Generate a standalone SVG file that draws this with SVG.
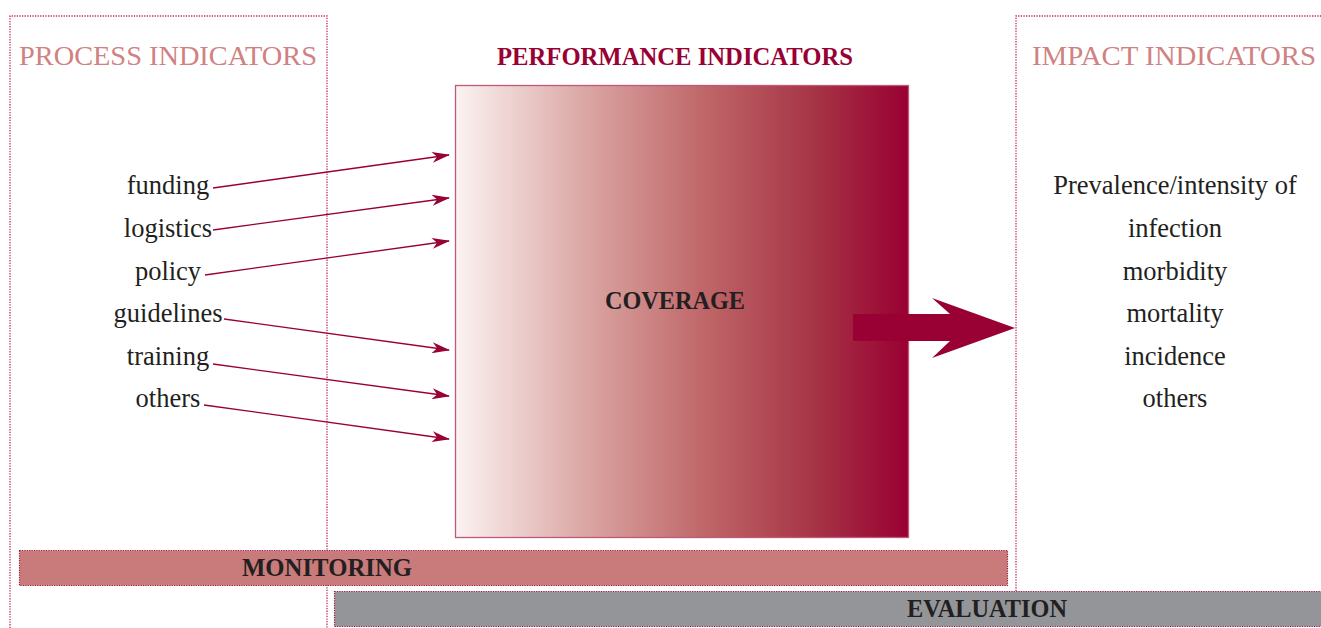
<svg xmlns="http://www.w3.org/2000/svg" width="1321" height="628" viewBox="0 0 1321 628">
<defs>
<linearGradient id="perfGrad" x1="0" y1="0" x2="1" y2="0">
<stop offset="0" stop-color="#fbf3f2"/>
<stop offset="0.28" stop-color="#dba8a5"/>
<stop offset="0.55" stop-color="#bf6668"/>
<stop offset="0.8" stop-color="#a53244"/>
<stop offset="1" stop-color="#990033"/>
</linearGradient>
<marker id="ah" viewBox="0 0 18 11" refX="17" refY="5.5" markerWidth="18" markerHeight="11" markerUnits="userSpaceOnUse" orient="auto">
<path d="M0,0 L18,5.5 L0,11 L5,5.5 Z" fill="#990033"/>
</marker>
<style>
.dotted{fill:none;stroke:#c02a60;stroke-width:1.3;stroke-dasharray:1.3 1.3}
.title{font-family:"Liberation Serif",serif;font-size:28px;fill:#d08282}
.ptitle{font-family:"Liberation Serif",serif;font-size:25px;font-weight:bold;fill:#990033}
.lbl{font-family:"Liberation Serif",serif;font-size:26.5px;fill:#231f20;text-anchor:middle}
.bold{font-family:"Liberation Serif",serif;font-size:24.5px;font-weight:bold;fill:#231f20;text-anchor:middle}
.conn{stroke:#990033;stroke-width:1.3;fill:none;marker-end:url(#ah)}
</style>
</defs>
<rect width="1321" height="628" fill="#ffffff"/>

<g id="process-indicators">
<path class="dotted" d="M10,628 L10,16 L327,16 L327,628"/>
<text class="title" x="19" y="65" textLength="298" lengthAdjust="spacingAndGlyphs">PROCESS INDICATORS</text>
</g>

<g id="impact-indicators">
<path class="dotted" d="M1016,591 L1016,16 L1321,16"/>
<text class="title" x="1032" y="65" textLength="284" lengthAdjust="spacingAndGlyphs">IMPACT INDICATORS</text>
<text class="lbl" x="1175" y="193.5">Prevalence/intensity of</text>
<text class="lbl" x="1175" y="236.5">infection</text>
<text class="lbl" x="1175" y="279.5">morbidity</text>
<text class="lbl" x="1175" y="321.5">mortality</text>
<text class="lbl" x="1175" y="364.5">incidence</text>
<text class="lbl" x="1175" y="406.5">others</text>
</g>

<g id="performance-indicators">
<text class="ptitle" x="497" y="65" textLength="356" lengthAdjust="spacingAndGlyphs">PERFORMANCE INDICATORS</text>
<rect x="455.5" y="85.5" width="453" height="452" fill="url(#perfGrad)" stroke="#c0587a" stroke-width="1.3"/>
<text class="bold" x="675" y="309" textLength="140" lengthAdjust="spacingAndGlyphs">COVERAGE</text>
</g>

<g id="big-arrow">
<polygon points="853,314 950,314 932,298 1015,328 932,358 950,341 853,341" fill="#990033"/>
</g>

<g id="inputs">
<text class="lbl" x="168" y="193.5">funding</text>
<text class="lbl" x="168" y="236.5">logistics</text>
<text class="lbl" x="168" y="279.5">policy</text>
<text class="lbl" x="168" y="321.5">guidelines</text>
<text class="lbl" x="168" y="364.5">training</text>
<text class="lbl" x="168" y="406.5">others</text>
</g>

<g id="connectors">
<line class="conn" x1="213" y1="188" x2="449" y2="155"/>
<line class="conn" x1="213" y1="230" x2="449" y2="198"/>
<line class="conn" x1="205" y1="275" x2="449" y2="241"/>
<line class="conn" x1="224" y1="319" x2="449" y2="350"/>
<line class="conn" x1="213" y1="364" x2="449" y2="396"/>
<line class="conn" x1="204" y1="405" x2="449" y2="439"/>
</g>

<g id="monitoring">
<rect x="19.5" y="550.5" width="988" height="35" fill="#c87b7a" stroke="#a01840" stroke-width="1.2" stroke-dasharray="1.2 1.2"/>
<text class="bold" x="327" y="576" textLength="170" lengthAdjust="spacingAndGlyphs">MONITORING</text>
</g>

<g id="evaluation">
<rect x="334.5" y="591.5" width="990" height="35" fill="#939598" stroke="#a01840" stroke-width="1.2" stroke-dasharray="1.2 1.2"/>
<text class="bold" x="987" y="617" textLength="160" lengthAdjust="spacingAndGlyphs">EVALUATION</text>
</g>
</svg>
